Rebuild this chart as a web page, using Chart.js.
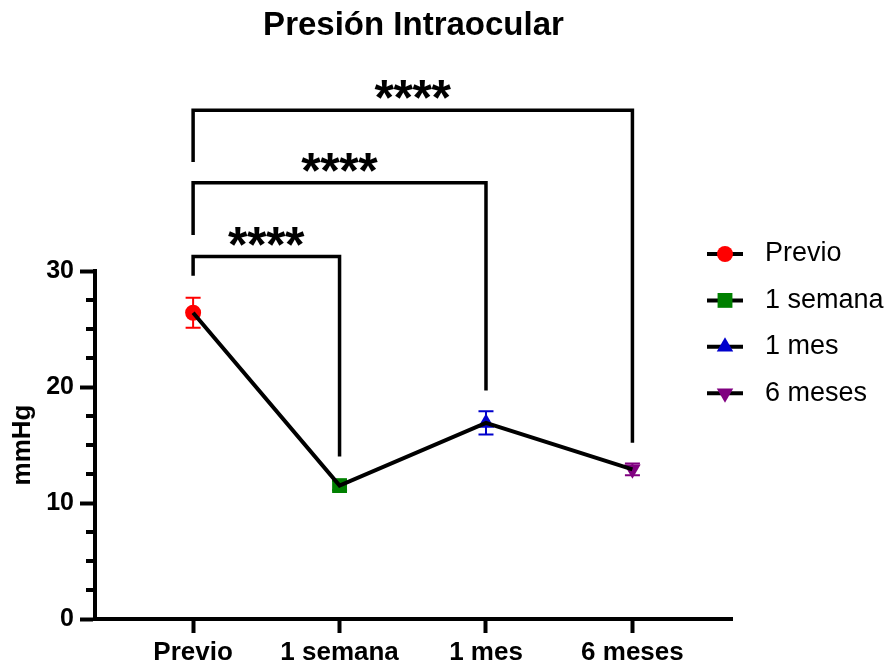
<!DOCTYPE html>
<html>
<head>
<meta charset="utf-8">
<title>Presión Intraocular</title>
<script src="https://cdn.jsdelivr.net/npm/chart.js"></script>
<style>
  html, body { margin: 0; padding: 0; background: #fff; }
  #wrap { width: 890px; height: 666px; position: relative; }
</style>
</head>
<body>
<div id="wrap"><canvas id="myChart"></canvas></div>
<script>
// ===== data =====
const categories = ["Previo", "1 semana", "1 mes", "6 meses"];
const meanValues = [26.4, 11.5, 16.9, 12.9];
const semValues = [1.3, 0.4, 1.0, 0.5];

const yTicks = [0, 10, 20, 30];
const yMinorTicks = [2.5, 5, 7.5, 12.5, 15, 17.5, 22.5, 25, 27.5];

// significance brackets (values in mmHg)
const bracketFrom = [0, 0, 0];
const bracketTo = [1, 2, 3];
const bracketLevel = [31.25, 37.6, 43.85];
const bracketLeftEnd = [29.6, 33.1, 39.4];
const bracketRightEnd = [14.0, 19.7, 15.2];
const bracketLabel = ["****", "****", "****"];

// ===== styles =====
const FONT = '"Liberation Sans", Arial, Helvetica, sans-serif';
const pointColors = ["#ff0000", "#008000", "#0000cc", "#800080"];
const pointStyles = ["circle", "rect", "triangle", "triangle"];
const pointRotations = [0, 0, 0, 180];
const pointSizes = [8, 10.5, 9.5, 9.5];

const points = meanValues.map((v, i) => ({ x: i, y: v }));

// error bars under the markers
const errorBarsPlugin = {
  id: "errorBars",
  beforeDatasetsDraw(chart) {
    const { ctx } = chart;
    const x = chart.scales.x;
    const y = chart.scales.y;
    ctx.save();
    ctx.lineWidth = 2;
    meanValues.forEach((v, i) => {
      const px = x.getPixelForValue(i);
      const top = y.getPixelForValue(v + semValues[i]);
      const bot = y.getPixelForValue(v - semValues[i]);
      ctx.strokeStyle = pointColors[i];
      ctx.beginPath();
      ctx.moveTo(px, top);
      ctx.lineTo(px, bot);
      ctx.moveTo(px - 7.5, top);
      ctx.lineTo(px + 7.5, top);
      ctx.moveTo(px - 7.5, bot);
      ctx.lineTo(px + 7.5, bot);
      ctx.stroke();
    });
    ctx.restore();
  },
};

// minor ticks, brackets, title, legend
const extrasPlugin = {
  id: "extras",
  afterDraw(chart) {
    const { ctx, chartArea } = chart;
    const x = chart.scales.x;
    const y = chart.scales.y;
    ctx.save();

    // minor ticks
    ctx.strokeStyle = "#000";
    ctx.lineWidth = 4;
    ctx.beginPath();
    yMinorTicks.forEach((t) => {
      const py = Math.round(y.getPixelForValue(t));
      ctx.moveTo(chartArea.left - 9, py);
      ctx.lineTo(chartArea.left, py);
    });
    ctx.stroke();

    // brackets
    ctx.lineWidth = 3.5;
    ctx.lineJoin = "miter";
    bracketLevel.forEach((lvl, i) => {
      const x1 = x.getPixelForValue(bracketFrom[i]);
      const x2 = x.getPixelForValue(bracketTo[i]);
      const py = y.getPixelForValue(lvl);
      ctx.beginPath();
      ctx.moveTo(x1, y.getPixelForValue(bracketLeftEnd[i]));
      ctx.lineTo(x1, py);
      ctx.lineTo(x2, py);
      ctx.lineTo(x2, y.getPixelForValue(bracketRightEnd[i]));
      ctx.stroke();

      // stars
      ctx.fillStyle = "#000";
      ctx.font = "bold 50px " + FONT;
      ctx.textAlign = "center";
      ctx.textBaseline = "alphabetic";
      const cx = (x1 + x2) / 2;
      const chars = bracketLabel[i].split("");
      chars.forEach((c, k) => {
        ctx.fillText(c, cx + (k - (chars.length - 1) / 2) * 19, py - 24 + 29);
      });
    });

    // title
    ctx.fillStyle = "#000";
    ctx.font = "bold 33px " + FONT;
    ctx.textAlign = "center";
    ctx.textBaseline = "alphabetic";
    ctx.fillText("Presión Intraocular", (chartArea.left + chartArea.right) / 2, 35);

    // legend
    categories.forEach((label, i) => {
      const ly = 254 + i * 46.4;
      ctx.strokeStyle = "#000";
      ctx.lineWidth = 4;
      ctx.beginPath();
      ctx.moveTo(707, ly);
      ctx.lineTo(743, ly);
      ctx.stroke();
      ctx.fillStyle = pointColors[i];
      Chart.helpers.drawPoint(ctx, {
        pointStyle: pointStyles[i],
        radius: pointSizes[i],
        rotation: pointRotations[i],
        borderWidth: 0,
      }, 725, ly);
      ctx.fillStyle = "#000";
      ctx.font = "27px " + FONT;
      ctx.textAlign = "left";
      ctx.textBaseline = "middle";
      ctx.fillText(label, 765, ly);
    });

    ctx.restore();
  },
};

const canvas = document.getElementById("myChart");
const myChart = new Chart(canvas.getContext("2d"), {
  type: "line",
  data: {
    datasets: [
      {
        label: "markers",
        data: points,
        showLine: false,
        pointStyle: pointStyles,
        pointRotation: pointRotations,
        pointRadius: pointSizes,
        pointBackgroundColor: pointColors,
        pointBorderWidth: 0,
        order: 2,
      },
      {
        label: "line",
        data: points,
        borderColor: "#000",
        borderWidth: 4,
        pointRadius: 0,
        tension: 0,
        order: 1,
      },
    ],
  },
  options: {
    responsive: true,
    maintainAspectRatio: false,
    animation: false,
    devicePixelRatio: 1,
    events: [],
    layout: { padding: { left: 0, right: 158, top: 271, bottom: 0 } },
    plugins: {
      legend: { display: false },
      title: { display: false },
      tooltip: { enabled: false },
    },
    scales: {
      x: {
        type: "linear",
        min: -0.67,
        max: 3.68,
        afterFit: (scale) => { scale.height = 47; },
        afterBuildTicks: (scale) => {
          scale.ticks = categories.map((c, i) => ({ value: i }));
        },
        ticks: {
          callback: (value) => categories[value],
          font: { family: FONT, size: 26, weight: "bold" },
          color: "#000",
          padding: 4,
          maxRotation: 0,
          autoSkip: false,
        },
        grid: {
          drawOnChartArea: false,
          tickLength: 14,
          tickWidth: 4,
          tickColor: "#000",
        },
        border: { display: true, width: 4, color: "#000" },
      },
      y: {
        min: 0,
        max: 30,
        afterFit: (scale) => { scale.width = 95; },
        afterBuildTicks: (scale) => {
          scale.ticks = yTicks.map((v) => ({ value: v }));
        },
        ticks: {
          font: { family: FONT, size: 25, weight: "bold" },
          color: "#000",
          padding: 6,
        },
        grid: {
          drawOnChartArea: false,
          tickLength: 15,
          tickWidth: 4,
          tickColor: "#000",
        },
        border: { display: true, width: 4, color: "#000" },
        title: {
          display: true,
          text: "mmHg",
          font: { family: FONT, size: 26, weight: "bold" },
          color: "#000",
          padding: { top: 7, bottom: 0 },
        },
      },
    },
  },
  plugins: [errorBarsPlugin, extrasPlugin],
});
</script>
</body>
</html>
